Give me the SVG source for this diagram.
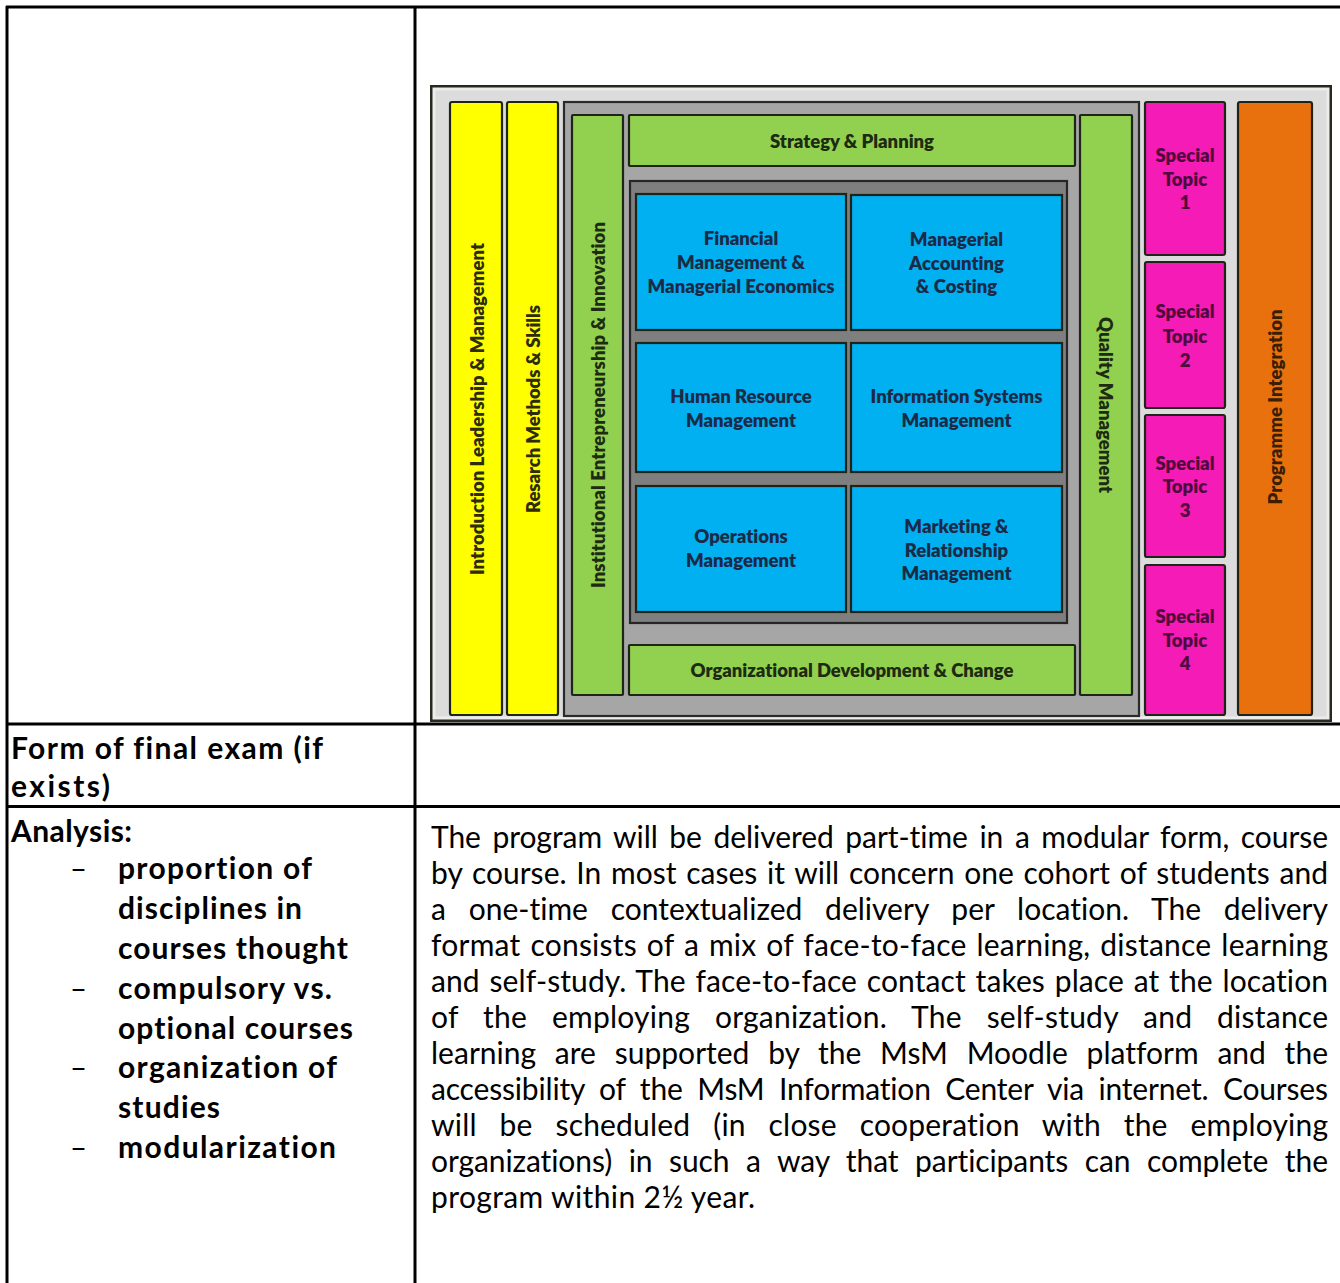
<svg xmlns="http://www.w3.org/2000/svg" width="1340" height="1283" viewBox="0 0 1340 1283">
<style>
.tl{stroke:#000;stroke-width:3;fill:none}
.bx{stroke:#1f2418;stroke-width:2.2}
.yel{fill:#ffff00}
.grn{fill:#92d050}
.blu{fill:#00b0f0}
.mag{fill:#f41bb6}
.org{fill:#e9710d}
.dg{font-family:Lato,"Liberation Sans",sans-serif;font-weight:800;font-size:18.5px;text-anchor:middle;font-variant-ligatures:none}
.tb{fill:#1b2a47}
.tg{fill:#1d2b10}
.ty{fill:#2e2c08}
.tm{fill:#4e0a3c}
.to{fill:#3a1e02}
.body{font-family:Lato,"Open Sans",sans-serif;font-size:30px;fill:#000;font-variant-ligatures:none}
.lb{font-family:Lato,"Open Sans",sans-serif;font-size:30px;font-weight:bold;fill:#000;font-variant-ligatures:none}
</style>

<g id="table">
  <line class="tl" x1="6" y1="7" x2="1340" y2="7"/>
  <line class="tl" x1="7" y1="6" x2="7" y2="1283"/>
  <line class="tl" x1="415" y1="6" x2="415" y2="1283"/>
  <line class="tl" x1="6" y1="724" x2="1340" y2="724"/>
  <line class="tl" x1="6" y1="806.5" x2="1340" y2="806.5"/>
</g>

<g id="curriculum-image">
  <rect x="431.5" y="86.5" width="899" height="634" fill="#dcdcdc" stroke="#262a1e" stroke-width="3"/>
  <rect x="434" y="89" width="894" height="629" fill="none" stroke="#ececec" stroke-width="3"/>

  <g id="intro-leadership">
    <rect class="bx yel" x="450" y="102" width="52" height="613" rx="2"/>
    <text class="dg ty" transform="translate(477,409) rotate(-90)" dominant-baseline="central" textLength="332" lengthAdjust="spacing">Introduction Leadership &amp; Management</text>
  </g>
  <g id="research-methods">
    <rect class="bx yel" x="507" y="102" width="51" height="613" rx="2"/>
    <text class="dg ty" transform="translate(533,409) rotate(-90)" dominant-baseline="central" textLength="208" lengthAdjust="spacing">Resarch Methods &amp; Skills</text>
  </g>

  <g id="core-container">
    <rect x="564" y="102" width="575" height="614" fill="#a6a6a6" stroke="#2a2a2a" stroke-width="2.2"/>
  </g>

  <g id="institutional-entrepreneurship">
    <rect class="bx grn" x="572" y="115" width="51" height="580" rx="1"/>
    <text class="dg tg" transform="translate(597.5,405) rotate(-90)" dominant-baseline="central" textLength="366" lengthAdjust="spacing">Institutional Entrepreneurship &amp; Innovation</text>
  </g>
  <g id="strategy-planning">
    <rect class="bx grn" x="629" y="115" width="446" height="51" rx="1"/>
    <text class="dg tg" x="852" y="148" textLength="164" lengthAdjust="spacing">Strategy &amp; Planning</text>
  </g>
  <g id="quality-management">
    <rect class="bx grn" x="1080" y="115" width="52" height="580" rx="1"/>
    <text class="dg tg" transform="translate(1106,405) rotate(90)" dominant-baseline="central" textLength="176" lengthAdjust="spacing">Quality Management</text>
  </g>
  <g id="org-development">
    <rect class="bx grn" x="629" y="645" width="446" height="50" rx="1"/>
    <text class="dg tg" x="852" y="677" textLength="323" lengthAdjust="spacing">Organizational Development &amp; Change</text>
  </g>

  <g id="functional-core">
    <rect x="630" y="181" width="437" height="442" fill="#7f7f7f" stroke="#262626" stroke-width="2.2"/>
  </g>
  <g id="financial-management">
    <rect class="bx blu" x="636" y="194" width="210" height="136"/>
    <text class="dg tb" x="741" y="245">Financial</text>
    <text class="dg tb" x="741" y="269">Management &amp;</text>
    <text class="dg tb" x="741" y="293" textLength="187" lengthAdjust="spacing">Managerial Economics</text>
  </g>
  <g id="managerial-accounting">
    <rect class="bx blu" x="851" y="195" width="211" height="135"/>
    <text class="dg tb" x="956.5" y="246">Managerial</text>
    <text class="dg tb" x="956.5" y="270">Accounting</text>
    <text class="dg tb" x="956.5" y="293">&amp; Costing</text>
  </g>
  <g id="human-resource">
    <rect class="bx blu" x="636" y="343" width="210" height="129"/>
    <text class="dg tb" x="741" y="403">Human Resource</text>
    <text class="dg tb" x="741" y="427">Management</text>
  </g>
  <g id="information-systems">
    <rect class="bx blu" x="851" y="343" width="211" height="129"/>
    <text class="dg tb" x="956.5" y="403">Information Systems</text>
    <text class="dg tb" x="956.5" y="427">Management</text>
  </g>
  <g id="operations-management">
    <rect class="bx blu" x="636" y="486" width="210" height="126"/>
    <text class="dg tb" x="741" y="543">Operations</text>
    <text class="dg tb" x="741" y="567">Management</text>
  </g>
  <g id="marketing-relationship">
    <rect class="bx blu" x="851" y="486" width="211" height="126"/>
    <text class="dg tb" x="956.5" y="533">Marketing &amp;</text>
    <text class="dg tb" x="956.5" y="557">Relationship</text>
    <text class="dg tb" x="956.5" y="580">Management</text>
  </g>

  <g id="special-topic-1">
    <rect class="bx mag" x="1145" y="102" width="80" height="153" rx="2"/>
    <text class="dg tm" x="1185" y="162">Special</text>
    <text class="dg tm" x="1185" y="186">Topic</text>
    <text class="dg tm" x="1185" y="209">1</text>
  </g>
  <g id="special-topic-2">
    <rect class="bx mag" x="1145" y="262" width="80" height="146" rx="2"/>
    <text class="dg tm" x="1185" y="318">Special</text>
    <text class="dg tm" x="1185" y="343">Topic</text>
    <text class="dg tm" x="1185" y="367">2</text>
  </g>
  <g id="special-topic-3">
    <rect class="bx mag" x="1145" y="415" width="80" height="142" rx="2"/>
    <text class="dg tm" x="1185" y="470">Special</text>
    <text class="dg tm" x="1185" y="493">Topic</text>
    <text class="dg tm" x="1185" y="517">3</text>
  </g>
  <g id="special-topic-4">
    <rect class="bx mag" x="1145" y="565" width="80" height="150" rx="2"/>
    <text class="dg tm" x="1185" y="623">Special</text>
    <text class="dg tm" x="1185" y="647">Topic</text>
    <text class="dg tm" x="1185" y="670">4</text>
  </g>
  <g id="programme-integration">
    <rect class="bx org" x="1238" y="102" width="74" height="613" rx="2"/>
    <text class="dg to" transform="translate(1275,407) rotate(-90)" dominant-baseline="central" textLength="195" lengthAdjust="spacing">Programme Integration</text>
  </g>
</g>

<g id="final-exam-label">
  <text class="lb" x="11" y="759" textLength="312" lengthAdjust="spacing">Form of final exam (if</text>
  <text class="lb" x="11" y="797" textLength="99" lengthAdjust="spacing">exists)</text>
</g>

<g id="analysis-label">
  <text class="lb" x="11" y="842" textLength="121" lengthAdjust="spacing">Analysis:</text>
  <text class="body" x="70" y="879" textLength="17" lengthAdjust="spacingAndGlyphs">–</text>
  <text class="lb" x="118" y="879" textLength="194" lengthAdjust="spacing">proportion of</text>
  <text class="lb" x="118" y="919" textLength="184" lengthAdjust="spacing">disciplines in</text>
  <text class="lb" x="118" y="958.5" textLength="230" lengthAdjust="spacing">courses thought</text>
  <text class="body" x="70" y="998.5" textLength="17" lengthAdjust="spacingAndGlyphs">–</text>
  <text class="lb" x="118" y="998.5" textLength="214" lengthAdjust="spacing">compulsory vs.</text>
  <text class="lb" x="118" y="1038.5" textLength="235" lengthAdjust="spacing">optional courses</text>
  <text class="body" x="70" y="1078" textLength="17" lengthAdjust="spacingAndGlyphs">–</text>
  <text class="lb" x="118" y="1078" textLength="219" lengthAdjust="spacing">organization of</text>
  <text class="lb" x="118" y="1118" textLength="102" lengthAdjust="spacing">studies</text>
  <text class="body" x="70" y="1158" textLength="17" lengthAdjust="spacingAndGlyphs">–</text>
  <text class="lb" x="118" y="1158" textLength="218" lengthAdjust="spacing">modularization</text>
</g>

<g id="analysis-text">
  <text class="body" x="431" y="848" word-spacing="4" textLength="897" lengthAdjust="spacing">The program will be delivered part-time in a modular form, course</text>
  <text class="body" x="431" y="884" word-spacing="2" textLength="897" lengthAdjust="spacing">by course. In most cases it will concern one cohort of students and</text>
  <text class="body" x="431" y="920" word-spacing="15" textLength="897" lengthAdjust="spacing">a one-time contextualized delivery per location. The delivery</text>
  <text class="body" x="431" y="956" word-spacing="2" textLength="897" lengthAdjust="spacing">format consists of a mix of face-to-face learning, distance learning</text>
  <text class="body" x="431" y="992" word-spacing="2" textLength="897" lengthAdjust="spacing">and self-study. The face-to-face contact takes place at the location</text>
  <text class="body" x="431" y="1028" word-spacing="17" textLength="897" lengthAdjust="spacing">of the employing organization. The self-study and distance</text>
  <text class="body" x="431" y="1064" word-spacing="11" textLength="897" lengthAdjust="spacing">learning are supported by the MsM Moodle platform and the</text>
  <text class="body" x="431" y="1100" word-spacing="7" textLength="897" lengthAdjust="spacing">accessibility of the MsM Information Center via internet. Courses</text>
  <text class="body" x="431" y="1136" word-spacing="15" textLength="897" lengthAdjust="spacing">will be scheduled (in close cooperation with the employing</text>
  <text class="body" x="431" y="1172" word-spacing="9" textLength="897" lengthAdjust="spacing">organizations) in such a way that participants can complete the</text>
  <text class="body" x="431" y="1208" textLength="324" lengthAdjust="spacing">program within 2½ year.</text>
</g>
</svg>
